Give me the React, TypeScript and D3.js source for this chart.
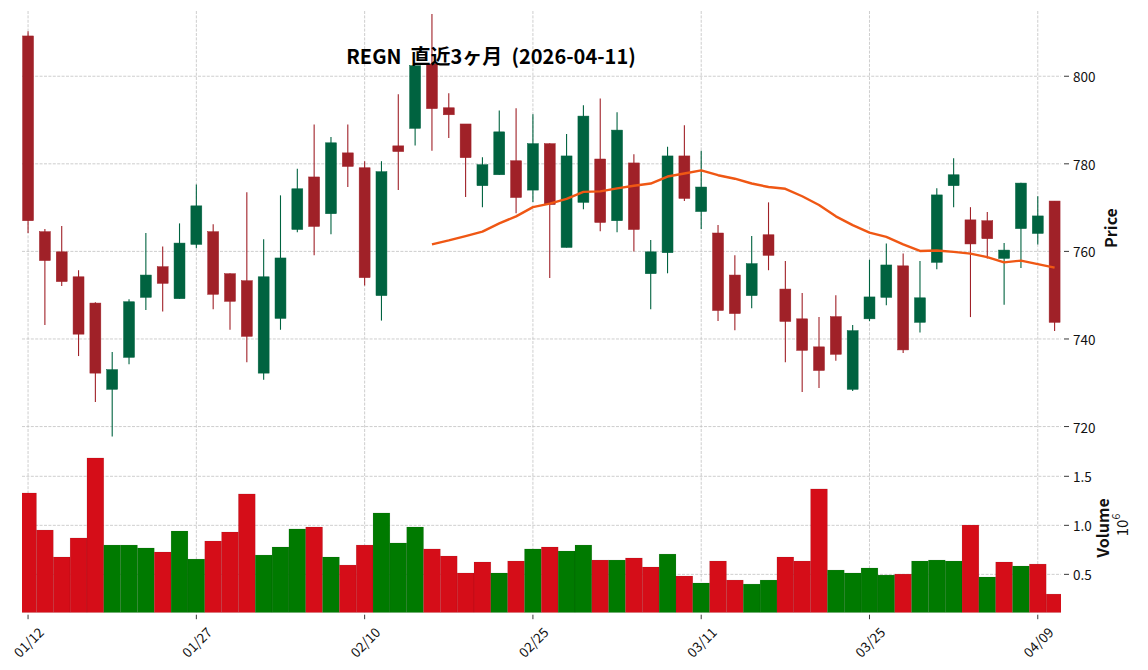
import * as d3 from 'd3'

// REGN daily bars, 2026-01-12 .. 2026-04-10
const dates = [
  '01/12', '01/13', '01/14', '01/15', '01/16', '01/20', '01/21', '01/22', '01/23', '01/26',
  '01/27', '01/28', '01/29', '01/30', '02/02', '02/03', '02/04', '02/05', '02/06', '02/09',
  '02/10', '02/11', '02/12', '02/13', '02/17', '02/18', '02/19', '02/20', '02/23', '02/24',
  '02/25', '02/26', '02/27', '03/02', '03/03', '03/04', '03/05', '03/06', '03/09', '03/10',
  '03/11', '03/12', '03/13', '03/16', '03/17', '03/18', '03/19', '03/20', '03/23', '03/24',
  '03/25', '03/26', '03/27', '03/30', '03/31', '04/01', '04/02', '04/06', '04/07', '04/08',
  '04/09', '04/10',
]

const opens = [
  809.2, 764.5, 759.9, 754.2, 748.2, 728.5, 735.8, 749.5, 756.5, 749.2,
  761.6, 764.5, 754.9, 753.3, 732.2, 744.7, 765.0, 777.0, 768.6, 782.5,
  779.1, 749.9, 784.1, 788.1, 802.8, 792.8, 789.1, 775.0, 777.5, 780.7,
  774.0, 784.6, 760.9, 771.2, 781.1, 767.0, 780.2, 754.9, 759.7, 781.8,
  769.1, 764.2, 754.6, 749.9, 763.8, 751.4, 744.6, 738.2, 745.1, 728.5,
  744.6, 749.5, 756.7, 743.8, 757.5, 775.0, 767.2, 767.0, 758.4, 765.2,
  764.1, 771.5,
]

const highs = [
  810.3, 765.1, 765.8, 755.7, 748.4, 737.0, 749.1, 764.2, 761.1, 766.4,
  775.3, 766.2, 755.0, 773.5, 762.8, 772.8, 778.9, 789.0, 786.1, 789.0,
  780.6, 780.6, 795.9, 802.4, 814.2, 796.1, 789.1, 781.5, 792.2, 792.7,
  791.3, 784.7, 786.8, 793.4, 794.9, 791.8, 782.2, 762.6, 783.9, 788.8,
  783.0, 766.0, 759.1, 763.5, 771.2, 757.8, 750.5, 745.0, 750.0, 743.2,
  758.1, 761.8, 759.5, 757.8, 774.4, 781.3, 770.1, 769.0, 761.9, 775.7,
  772.6, 771.5,
]

const lows = [
  764.2, 743.2, 752.1, 736.1, 725.6, 717.7, 734.2, 746.6, 746.3, 749.2,
  760.7, 746.8, 742.1, 734.7, 730.7, 742.1, 764.4, 759.1, 763.9, 774.7,
  752.2, 744.2, 774.0, 784.2, 783.0, 785.9, 772.4, 770.1, 777.5, 768.7,
  771.3, 753.9, 760.9, 769.6, 764.6, 764.4, 760.0, 746.8, 755.0, 771.5,
  765.1, 744.1, 742.0, 747.0, 755.7, 734.7, 727.9, 728.8, 735.0, 728.1,
  744.1, 747.7, 736.8, 741.5, 755.9, 770.1, 745.0, 758.4, 747.8, 756.2,
  761.6, 741.8,
]

const closes = [
  767.0, 757.9, 753.1, 741.1, 732.2, 733.0, 748.5, 754.6, 752.7, 761.9,
  770.4, 750.2, 748.6, 740.6, 754.2, 758.5, 774.3, 765.7, 784.8, 779.4,
  754.0, 778.2, 782.8, 802.4, 792.6, 791.2, 781.4, 779.8, 787.3, 772.3,
  784.6, 770.7, 781.8, 790.9, 766.6, 787.7, 765.0, 759.9, 781.8, 772.1,
  774.7, 746.5, 745.8, 757.2, 759.1, 744.0, 737.4, 732.8, 736.5, 741.9,
  749.6, 756.9, 737.5, 749.4, 772.9, 777.5, 761.7, 762.9, 760.3, 775.6,
  768.1, 743.8,
]

const volumes = [
  1330000, 952000, 677000, 871000, 1687000, 799000, 799000, 769000, 728000, 942000,
  656000, 840000, 932000, 1320000, 697000, 779000, 963000, 983000, 677000, 595000,
  799000, 1126000, 820000, 983000, 759000, 687000, 514000, 626000, 514000, 636000,
  759000, 779000, 738000, 799000, 646000, 646000, 667000, 575000, 707000, 483000,
  412000, 636000, 442000, 401000, 442000, 677000, 636000, 1371000, 544000, 514000,
  565000, 493000, 503000, 636000, 646000, 636000, 1003000, 473000, 626000, 585000,
  605000, 299000,
]

// 25-day moving average, first value at bar 24
const maStart = 24
const ma25 = [
  761.6, 762.5, 763.5, 764.5, 766.4, 768.0, 770.1, 770.9, 772.0, 773.6,
  773.7, 774.4, 775.0, 775.5, 777.1, 777.8, 778.5, 777.4, 776.6, 775.5,
  774.7, 774.3, 772.6, 770.6, 768.0, 766.0, 764.3, 763.3, 761.6, 760.1,
  760.2, 759.9, 759.5, 758.7, 757.5, 757.9, 757.1, 756.3,
]

const priceTicks = [720, 740, 760, 780, 800]
const volumeTicks = [500000, 1000000, 1500000]
const dateTicks = ['01/12', '01/27', '02/10', '02/25', '03/11', '03/25', '04/09']

const W = 1148
const H = 670
const LEFT = 22
const RIGHT = 1061
const TOP = 11
const PRICE_BOTTOM = 441
const VOL_BOTTOM = 612.7

const UP = '#006340'
const DOWN = '#a02128'
const VOL_UP = '#007a00'
const VOL_DOWN = '#d50d18'
const MA_COLOR = '#ef5714'
const GRID = '#c2c2c2'
const FONT = '"Noto Sans CJK JP", "Noto Sans", sans-serif'

export default function App() {
  const x = d3.scaleLinear().domain([-0.36, dates.length - 0.62]).range([LEFT, RIGHT])
  const yP = d3.scaleLinear().domain([716.7, 814.9]).range([PRICE_BOTTOM, TOP])
  const yV = d3.scaleLinear().domain([109000, 1860000]).range([VOL_BOTTOM, PRICE_BOTTOM])
  const step = x(1) - x(0)
  const bodyW = step * 0.65

  const maLine = d3
    .line<number>()
    .x((_, k) => x(k + maStart))
    .y((v) => yP(v))

  const tickIdx = dateTicks.map((d) => dates.indexOf(d))

  return (
    <svg
      width={W}
      height={H}
      style={{ position: 'absolute', left: 0, top: 0, display: 'block', background: '#fff' }}
      fontFamily={FONT}
    >
      <defs>
        <clipPath id="volClip">
          <rect x={LEFT} y={PRICE_BOTTOM} width={RIGHT - LEFT} height={VOL_BOTTOM - PRICE_BOTTOM} />
        </clipPath>
      </defs>

      {/* grid */}
      <g stroke={GRID} strokeWidth={0.8} strokeDasharray="3,1.4">
        {tickIdx.map((i) => (
          <line key={'vg' + i} x1={x(i)} x2={x(i)} y1={TOP} y2={VOL_BOTTOM} />
        ))}
        {priceTicks.map((p) => (
          <line key={'pg' + p} x1={LEFT} x2={RIGHT} y1={yP(p)} y2={yP(p)} />
        ))}
        {volumeTicks.map((v) => (
          <line key={'vv' + v} x1={LEFT} x2={RIGHT} y1={yV(v)} y2={yV(v)} />
        ))}
      </g>

      {/* volume */}
      <g clipPath="url(#volClip)">
        {volumes.map((v, i) => {
          const up = i === 0 ? closes[0] >= opens[0] : closes[i] >= closes[i - 1]
          return (
            <rect
              key={'v' + i}
              x={x(i) - step / 2}
              y={yV(v)}
              width={step}
              height={VOL_BOTTOM - yV(v)}
              fill={up ? VOL_UP : VOL_DOWN}
              stroke="rgba(0,0,0,0.12)"
              strokeWidth={0.6}
            />
          )
        })}
      </g>

      {/* candles */}
      {dates.map((d, i) => {
        const o = opens[i]
        const c = closes[i]
        const col = c >= o ? UP : DOWN
        const top = yP(Math.max(o, c))
        const h = Math.max(1, Math.abs(yP(o) - yP(c)))
        return (
          <g key={d}>
            <line x1={x(i)} x2={x(i)} y1={yP(highs[i])} y2={yP(lows[i])} stroke={col} strokeWidth={1.1} />
            <rect x={x(i) - bodyW / 2} y={top} width={bodyW} height={h} fill={col} stroke={col} strokeWidth={0.5} />
          </g>
        )
      })}

      {/* moving average */}
      <path d={maLine(ma25) ?? ''} fill="none" stroke={MA_COLOR} strokeWidth={2.4} strokeLinejoin="round" />

      {/* right axes */}
      <g fontSize={13.5} fill="#111">
        {priceTicks.map((p) => (
          <g key={'pt' + p}>
            <line x1={RIGHT + 3} x2={RIGHT + 8} y1={yP(p)} y2={yP(p)} stroke="#222" strokeWidth={0.9} />
            <text x={RIGHT + 12} y={yP(p)} dominantBaseline="central">
              {p}
            </text>
          </g>
        ))}
        {volumeTicks.map((v) => (
          <g key={'vt' + v}>
            <line x1={RIGHT + 3} x2={RIGHT + 8} y1={yV(v)} y2={yV(v)} stroke="#222" strokeWidth={0.9} />
            <text x={RIGHT + 12} y={yV(v)} dominantBaseline="central">
              {(v / 1e6).toFixed(1)}
            </text>
          </g>
        ))}
      </g>

      {/* date axis */}
      <g fontSize={13.5} fill="#111">
        {tickIdx.map((i, k) => (
          <g key={'xt' + i}>
            <line x1={x(i)} x2={x(i)} y1={VOL_BOTTOM + 2} y2={VOL_BOTTOM + 6.5} stroke="#222" strokeWidth={0.9} />
            <text
              textAnchor="middle"
              dominantBaseline="central"
              transform={`translate(${x(i)},${VOL_BOTTOM + 29}) rotate(-45)`}
            >
              {dateTicks[k]}
            </text>
          </g>
        ))}
      </g>

      {/* labels */}
      <text
        transform="translate(1110,228) rotate(-90)"
        textAnchor="middle"
        dominantBaseline="central"
        fontSize={16}
        fontWeight="bold"
        fill="#111"
      >
        Price
      </text>
      <text
        transform="translate(1102,528) rotate(-90)"
        textAnchor="middle"
        dominantBaseline="central"
        fontSize={16}
        fontWeight="bold"
        fill="#111"
      >
        Volume
      </text>
      <text
        transform="translate(1121,525) rotate(-90)"
        textAnchor="middle"
        dominantBaseline="central"
        fontSize={15}
        fill="#111"
      >
        10
        <tspan fontSize={10.5} dy={-6}>
          6
        </tspan>
      </text>

      <text
        x={491}
        y={55}
        textAnchor="middle"
        dominantBaseline="central"
        fontSize={20}
        fontWeight="bold"
        fill="#000"
        style={{ whiteSpace: 'pre' }}
      >
        {'REGN  直近3ヶ月  (2026-04-11)'}
      </text>
    </svg>
  )
}
